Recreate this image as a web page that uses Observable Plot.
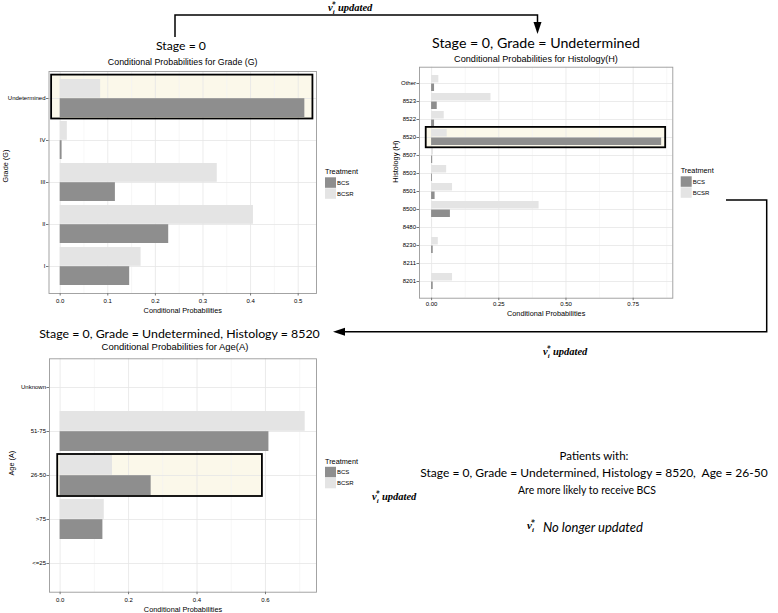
<!DOCTYPE html>
<html><head><meta charset="utf-8">
<script src="https://cdn.jsdelivr.net/npm/d3@7"></script>
<script src="https://cdn.jsdelivr.net/npm/@observablehq/plot@0.6"></script>
<style>
html,body{margin:0;padding:0;background:#fff;}
#root{position:relative;width:778px;height:613px;overflow:hidden;}
.panel{position:absolute;}
#overlay{position:absolute;left:0;top:0;}
</style></head><body><div id="root"></div>
<script>
// ---------- data ----------
const treatments = ["BCS", "BCSR"];
const gradeCats = ["Undetermined", "IV", "III", "II", "I"];
const gradeBCS  = [0.514, 0.004, 0.116, 0.228, 0.146];
const gradeBCSR = [0.085, 0.015, 0.330, 0.406, 0.170];
const histCats = ["Other", "8523", "8522", "8520", "8507", "8503", "8501", "8500", "8480", "8230", "8211", "8201"];
const histBCS  = [0.011, 0.021, 0.011, 0.856, 0.004, 0.003, 0.013, 0.070, 0.000, 0.006, 0.000, 0.006];
const histBCSR = [0.027, 0.221, 0.047, 0.058, 0.007, 0.056, 0.078, 0.400, 0.002, 0.025, 0.000, 0.078];
const ageCats = ["Unknown", "51-75", "26-50", ">75", "<=25"];
const ageBCS  = [0.000, 0.610, 0.266, 0.125, 0.000];
const ageBCSR = [0.000, 0.716, 0.153, 0.129, 0.000];
const gradeTicks = [0, 0.1, 0.2, 0.3, 0.4, 0.5];
const histTicks = [0, 0.25, 0.5, 0.75];
const ageTicks = [0, 0.2, 0.4, 0.6];
const highlightGrade = {cat: "Undetermined", x1: -0.018, x2: 0.531};
const highlightHist = {cat: "8520", x1: -0.020, x2: 0.871};
const highlightAge = {cat: "26-50", x1: -0.007, x2: 0.591};

// ---------- style ----------
const colBCS = "#8e8e8e", colBCSR = "#e4e4e4";
const SANS = "Liberation Sans, Arial, sans-serif";
const TITLE = "Lato, 'Open Sans', sans-serif";
const SERIF = "Liberation Serif, 'Times New Roman', serif";
const root = document.getElementById("root");

function panel(o) {
  const rows = o.cats.map((c, i) => ({cat: c, BCS: o.bcs[i], BCSR: o.bcsr[i]}));
  const n = o.cats.length;
  const step = (o.height - o.mt - o.mb) / (n + 0.2);
  const half = step * 0.9 / 2;
  const minor = o.ticks.slice(0, -1).map((t, i) => (t + o.ticks[i + 1]) / 2)
    .concat([o.ticks[o.ticks.length - 1] + (o.ticks[1] - o.ticks[0]) / 2].filter(v => v < o.xDomain[1]));
  const svg = Plot.plot({
    width: o.width, height: o.height,
    marginLeft: o.ml, marginRight: o.mr, marginTop: o.mt, marginBottom: o.mb,
    style: {fontFamily: SANS, fontSize: "6px", background: "transparent", overflow: "visible"},
    x: {domain: o.xDomain},
    y: {domain: o.cats, paddingInner: 0.1, paddingOuter: 0.15},
    color: {domain: treatments, range: [colBCS, colBCSR]},
    marks: [
      Plot.barX([o.hl], {x1: "x1", x2: "x2", y: "cat", fill: "#fbf8ea", insetTop: o.hlInset[0], insetBottom: o.hlInset[1]}),
      Plot.gridX({ticks: minor, stroke: "#f3f3f3", strokeOpacity: 1, strokeWidth: 0.7}),
      Plot.gridX({ticks: o.ticks, stroke: "#e6e6e6", strokeOpacity: 1, strokeWidth: 0.8}),
      Plot.gridY({stroke: "#e6e6e6", strokeOpacity: 1, strokeWidth: 0.8}),
      Plot.barX(rows, {x: "BCSR", y: "cat", fill: () => "BCSR", insetBottom: half}),
      Plot.barX(rows, {x: "BCS", y: "cat", fill: () => "BCS", insetTop: half}),
      Plot.frame({stroke: "#9a9a9a", strokeWidth: 0.9}),
      Plot.barX([o.hl], {x1: "x1", x2: "x2", y: "cat", fill: "none", stroke: "#000", strokeWidth: 1.8, insetTop: o.hlInset[0], insetBottom: o.hlInset[1]}),
      Plot.axisX({ticks: o.ticks, tickFormat: d3.format(o.fmt), tickSize: 2.5, tickPadding: o.xPad, stroke: "#777", fill: "#000", label: null}),
      Plot.axisY({tickSize: 2.5, tickPadding: 1, stroke: "#777", fill: "#000", label: null}),
      Plot.text(["Conditional Probabilities"], {frameAnchor: "bottom", dy: o.xLabDy, lineAnchor: "middle", fontSize: 7.3, fill: "#000"}),
      Plot.text([o.yLabel], {frameAnchor: "left", dx: o.yLabDx, rotate: -90, lineAnchor: "middle", fontSize: 7.3, fill: "#000"})
    ]
  });
  const d = document.createElement("div");
  d.className = "panel";
  d.style.left = o.left + "px";
  d.style.top = o.top + "px";
  d.appendChild(svg);
  root.appendChild(d);
}

panel({cats: gradeCats, bcs: gradeBCS, bcsr: gradeBCSR, ticks: gradeTicks, fmt: ".1f",
  xDomain: [-0.0235, 0.5385], hl: highlightGrade, hlInset: [-4.4, -1.5], yLabel: "Grade (G)",
  left: 0, top: 66, width: 320, height: 256, ml: 48.5, mr: 4, mt: 5, mb: 29,
  xPad: 3, xLabDy: 17, yLabDx: -43.5});
panel({cats: histCats, bcs: histBCS, bcsr: histBCSR, ticks: histTicks, fmt: ".2f",
  xDomain: [-0.045, 0.8975], hl: highlightHist, hlInset: [-2.1, -2.3], yLabel: "Histology (H)",
  left: 370, top: 62, width: 308, height: 260, ml: 49, mr: 5.7, mt: 4.7, mb: 24.3,
  xPad: 1.5, xLabDy: 15.6, yLabDx: -24});
panel({cats: ageCats, bcs: ageBCS, bcsr: ageBCSR, ticks: ageTicks, fmt: ".1f",
  xDomain: [-0.031, 0.749], hl: highlightAge, hlInset: [-1, -1], yLabel: "Age (A)",
  left: 0, top: 354, width: 320, height: 259, ml: 49, mr: 4, mt: 4.3, mb: 21.3,
  xPad: 2.8, xLabDy: 17.6, yLabDx: -38});

// ---------- overlay: titles, legends, arrows, notes ----------
const svg = d3.select(root).append("svg").attr("id", "overlay").attr("width", 778).attr("height", 613);

function txt(x, y, s, {size = 8, family = SANS, anchor = "middle", weight = "normal", style = "normal", width = null} = {}) {
  const t = svg.append("text").attr("x", x).attr("y", y + size * 0.35)
    .attr("font-family", family).attr("font-size", size).attr("font-weight", weight)
    .attr("font-style", style).attr("text-anchor", anchor).attr("fill", "#000")
    .style("white-space", "pre").text(s);
  if (width) {
    const w = t.node().getComputedTextLength();
    const ns = size * width / w;
    t.attr("font-size", ns).attr("y", y + ns * 0.35);
  }
  return t;
}
function vi(x, y, suffix, size = 10) {
  const t = svg.append("text").attr("x", x).attr("y", y + size * 0.3)
    .attr("font-family", SERIF).attr("font-style", "italic").attr("font-weight", "bold")
    .attr("font-size", size).attr("fill", "#000").style("white-space", "pre");
  t.append("tspan").text("v");
  t.append("tspan").attr("font-size", size * 0.65).attr("dy", size * 0.25).text("i");
  t.append("tspan").attr("font-size", size * 0.7).attr("dx", -size * 0.28).attr("dy", -size * 0.62).text("*");
  t.append("tspan").attr("dy", size * 0.37).text(suffix);
  return t;
}
function legend(x, y0) {
  svg.append("text").attr("x", x).attr("y", y0).attr("font-family", SANS).attr("font-size", 7.3).attr("fill", "#000").text("Treatment");
  treatments.forEach((tr, i) => {
    const top = y0 + 3 + i * 11;
    svg.append("rect").attr("x", x).attr("y", top).attr("width", 11).attr("height", 10.5)
      .attr("fill", tr === "BCS" ? colBCS : colBCSR);
    svg.append("text").attr("x", x + 12).attr("y", top + 5.3 + 2.1).attr("font-family", SANS)
      .attr("font-size", 6).attr("fill", "#000").text(tr);
  });
}
legend(325, 174.3);
legend(680.7, 173.3);
legend(325, 463.8);

// titles
txt(181, 46, "Stage = 0", {family: TITLE, size: 13, width: 50});
txt(182.7, 61.7, "Conditional Probabilities for Grade (G)", {size: 8, width: 150});
txt(536, 43.3, "Stage = 0, Grade = Undetermined", {family: TITLE, size: 13, width: 208});
txt(536, 59, "Conditional Probabilities for Histology(H)", {size: 8, width: 164});
txt(179.5, 334, "Stage = 0, Grade = Undetermined, Histology = 8520", {family: TITLE, size: 13, width: 281});
txt(175, 347, "Conditional Probabilities for Age(A)", {size: 8, width: 147});

// notes
txt(594, 456, "Patients with:", {family: TITLE, size: 12, width: 69});
txt(594, 473, "Stage = 0, Grade = Undetermined, Histology = 8520,\u00a0 Age = 26-50", {family: TITLE, size: 12, width: 348});
txt(587, 490, "Are more likely to receive BCS", {family: TITLE, size: 12, width: 138});
vi(527, 526, "", 11);
txt(543, 527, "No longer updated", {family: TITLE, size: 12, anchor: "start", style: "italic", width: 100});

vi(328, 8, " updated", 10.5);
vi(543, 352, " updated", 10.5);
vi(372, 497, " updated", 10.5);

// arrows
svg.append("path").attr("d", "M175,37 V15 H537.5 V24").attr("fill", "none").attr("stroke", "#000").attr("stroke-width", 1.5);
svg.append("path").attr("d", "M533.5,22 L541.5,22 L537.5,34 Z").attr("fill", "#000");
svg.append("path").attr("d", "M726,200 H766.7 V331.7 H343").attr("fill", "none").attr("stroke", "#000").attr("stroke-width", 1.5);
svg.append("path").attr("d", "M345,327.7 L345,335.7 L333,331.7 Z").attr("fill", "#000");
</script></body></html>
